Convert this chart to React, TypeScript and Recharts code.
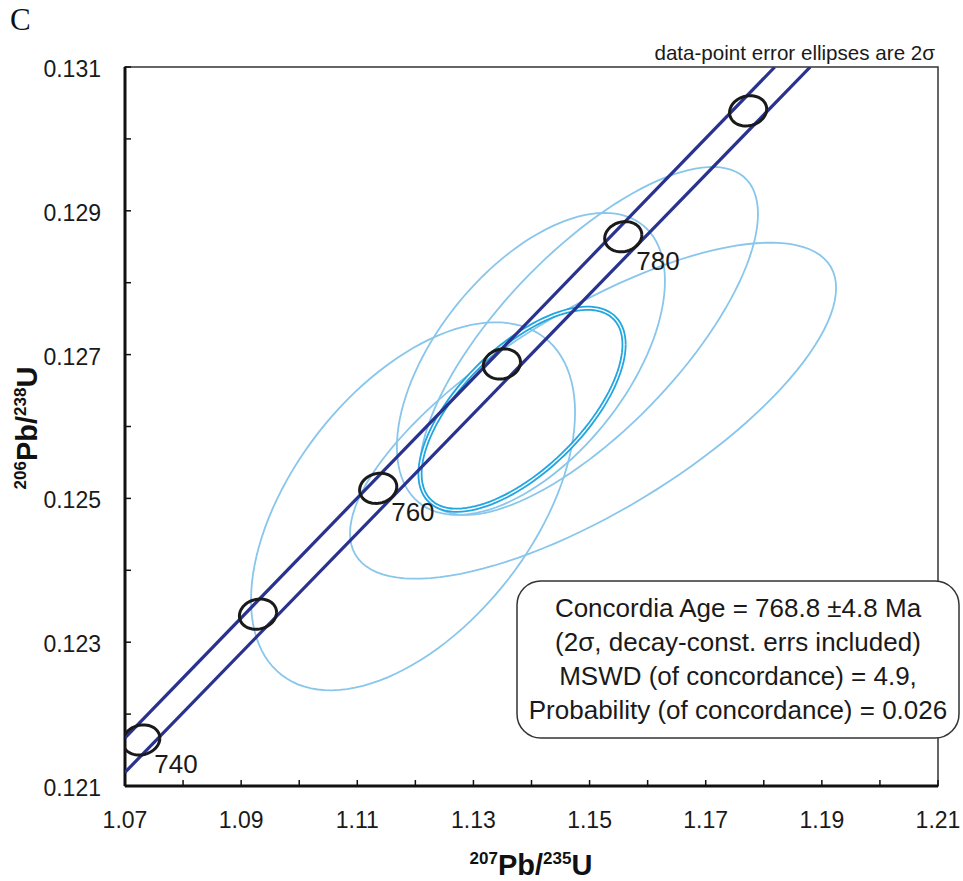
import React from "react";
import { ScatterChart, Scatter, XAxis, YAxis, ReferenceArea } from "recharts";

// axis ticks (every 0.01 / 0.001, labels on every other one)
const xTicks = [1.07, 1.08, 1.09, 1.1, 1.11, 1.12, 1.13, 1.14, 1.15, 1.16, 1.17, 1.18, 1.19, 1.2, 1.21];
const xTickLabels = ["1.07", "", "1.09", "", "1.11", "", "1.13", "", "1.15", "", "1.17", "", "1.19", "", "1.21"];
const yTicks = [0.121, 0.122, 0.123, 0.124, 0.125, 0.126, 0.127, 0.128, 0.129, 0.13, 0.131];
const yTickLabels = ["0.121", "", "0.123", "", "0.125", "", "0.127", "", "0.129", "", "0.131"];

// concordia age markers (Ma)
const ages = [740, 750, 760, 770, 780, 790];
const ageX = [1.0728, 1.0929, 1.1136, 1.1349, 1.1558, 1.1773];
const ageY = [0.12164, 0.12339, 0.12514, 0.12687, 0.12864, 0.13039];
const labelledAges = [740, 760, 780];

// decay-constant error band of the concordia
const bandUpperX = [1.07, 1.1819];
const bandUpperY = [0.12167, 0.131];
const bandLowerX = [1.07, 1.188];
const bandLowerY = [0.12119, 0.131];

// data-point 2 sigma ellipses: centre, half-widths, correlation
const ellX = [1.1196, 1.1506, 1.1499, 1.1399];
const ellY = [0.12489, 0.12622, 0.12719, 0.12687];
const ellErrX = [0.0279, 0.04185, 0.0291, 0.02308];
const ellErrY = [0.002559, 0.002337, 0.00242, 0.0021];
const ellRho = [0.51, 0.73, 0.73, 0.55];

// concordia age ellipse
const ageEll = { x: 1.13837, y: 0.12624, ex: 0.01757, ey: 0.001405, rho: 0.64 };
// small decay-constant ellipses on the concordia ticks
const marker = { ex: 0.0032, ey: 0.00021, rho: 0.12 };

const LIGHT = "#88c6ec";
const CYAN = "#22a6e0";
const NAVY = "#29338f";
const FONT = "'Liberation Sans', Arial, sans-serif";

// outline of an error ellipse (x, y errors + correlation)
function outline(cx: number, cy: number, ex: number, ey: number, rho: number, n = 120) {
  const k = Math.sqrt(1 - rho * rho);
  const pts = [];
  for (let i = 0; i <= n; i++) {
    const t = (2 * Math.PI * i) / n;
    pts.push({ x: cx + ex * Math.cos(t), y: cy + ey * (rho * Math.cos(t) + k * Math.sin(t)) });
  }
  return pts;
}

const noDot = () => <g />;

const XTick = (props: any) => {
  const { x, y, index } = props;
  const label = xTickLabels[index];
  return (
    <g>
      <line x1={x} y1={y} x2={x} y2={y - 6} stroke="#111" strokeWidth={1.5} />
      {label && (
        <text x={x} y={y + 42} textAnchor="middle" fontFamily={FONT} fontSize={23} fill="#1a1a1a">
          {label}
        </text>
      )}
    </g>
  );
};

const YTick = (props: any) => {
  const { x, y, index } = props;
  const label = yTickLabels[index];
  return (
    <g>
      <line x1={x} y1={y} x2={x + 6} y2={y} stroke="#111" strokeWidth={1.5} />
      {label && (
        <text x={x - 24} y={y + 10} textAnchor="end" fontFamily={FONT} fontSize={23} fill="#1a1a1a">
          {label}
        </text>
      )}
    </g>
  );
};

const AgeLabel = (props: any) => (
  <text x={props.cx + 13} y={props.cy + 33} fontFamily={FONT} fontSize={26} fill="#1a1a1a">
    {props.payload.age}
  </text>
);

export default function App() {
  const dataEllipses = ellX.map((x, i) => outline(x, ellY[i], ellErrX[i], ellErrY[i], ellRho[i]));
  const ageEllipse = outline(ageEll.x, ageEll.y, ageEll.ex, ageEll.ey, ageEll.rho);
  const markers = ages.map((_, i) => outline(ageX[i], ageY[i], marker.ex, marker.ey, marker.rho, 60));
  const upper = bandUpperX.map((x, i) => ({ x, y: bandUpperY[i] }));
  const lower = bandLowerX.map((x, i) => ({ x, y: bandLowerY[i] }));
  const labels = labelledAges.map((age) => {
    const i = ages.indexOf(age);
    return { x: ageX[i], y: ageY[i], age };
  });

  return (
    <div style={{ position: "absolute", left: 0, top: 0, width: 963, height: 881, background: "#fff" }}>
      <ScatterChart width={963} height={881} margin={{ top: 67, right: 25, bottom: 35, left: 25 }}>
        <XAxis
          type="number"
          dataKey="x"
          domain={[1.07, 1.21]}
          ticks={xTicks}
          interval={0}
          allowDataOverflow
          height={60}
          tickSize={0}
          tickMargin={0}
          tick={<XTick />}
          axisLine={{ stroke: "#111", strokeWidth: 3 }}
        />
        <YAxis
          type="number"
          dataKey="y"
          domain={[0.121, 0.131]}
          ticks={yTicks}
          interval={0}
          allowDataOverflow
          width={100}
          tickSize={0}
          tickMargin={0}
          tick={<YTick />}
          axisLine={{ stroke: "#111", strokeWidth: 3 }}
        />
        <ReferenceArea x1={1.07} x2={1.21} y1={0.121} y2={0.131} fill="none" stroke="#333" strokeWidth={1.5} />
        {dataEllipses.map((pts, i) => (
          <Scatter
            key={"e" + i}
            data={pts}
            line={{ stroke: LIGHT, strokeWidth: 1.8 }}
            lineType="joint"
            shape={noDot}
            isAnimationActive={false}
          />
        ))}
        <Scatter data={ageEllipse} line={{ stroke: CYAN, strokeWidth: 5 }} lineType="joint" shape={noDot} isAnimationActive={false} />
        <Scatter data={ageEllipse} line={{ stroke: "#fff", strokeWidth: 1.4 }} lineType="joint" shape={noDot} isAnimationActive={false} />
        <Scatter data={upper} line={{ stroke: NAVY, strokeWidth: 3.2 }} lineType="joint" shape={noDot} isAnimationActive={false} />
        <Scatter data={lower} line={{ stroke: NAVY, strokeWidth: 3.2 }} lineType="joint" shape={noDot} isAnimationActive={false} />
        {markers.map((pts, i) => (
          <Scatter
            key={"m" + i}
            data={pts}
            line={{ stroke: "#1a1a1a", strokeWidth: 3 }}
            lineType="joint"
            shape={noDot}
            isAnimationActive={false}
          />
        ))}
        <Scatter data={labels} shape={<AgeLabel />} isAnimationActive={false} />
      </ScatterChart>

      <svg width={963} height={881} style={{ position: "absolute", left: 0, top: 0, pointerEvents: "none" }}>
        <text x={10} y={30} fontFamily="'Liberation Serif', 'Times New Roman', serif" fontSize={31} fill="#111">
          C
        </text>
        <text x={935} y={60} textAnchor="end" fontFamily={FONT} fontSize={20.6} fill="#1a1a1a">
          data-point error ellipses are 2σ
        </text>
        <text x={531} y={875} textAnchor="middle" fontFamily={FONT} fontWeight="bold" fontSize={29} fill="#111">
          <tspan fontSize={17} dy={-11}>207</tspan>
          <tspan dy={11}>Pb/</tspan>
          <tspan fontSize={17} dy={-11}>235</tspan>
          <tspan dy={11}>U</tspan>
        </text>
        <text
          transform="translate(37,428) rotate(-90)"
          textAnchor="middle"
          fontFamily={FONT}
          fontWeight="bold"
          fontSize={29}
          fill="#111"
        >
          <tspan fontSize={17} dy={-11}>206</tspan>
          <tspan dy={11}>Pb/</tspan>
          <tspan fontSize={17} dy={-11}>238</tspan>
          <tspan dy={11}>U</tspan>
        </text>
        <rect x={517} y={581} width={442} height={157} rx={24} ry={24} fill="#fff" stroke="#333" strokeWidth={1.5} />
        <g fontFamily={FONT} fontSize={26} fill="#1a1a1a" textAnchor="middle">
          <text x={738} y={617}>Concordia Age = 768.8 ±4.8 Ma</text>
          <text x={738} y={651}>(2σ, decay-const. errs included)</text>
          <text x={738} y={685}>MSWD (of concordance) = 4.9,</text>
          <text x={738} y={719}>Probability (of concordance) = 0.026</text>
        </g>
      </svg>
    </div>
  );
}
